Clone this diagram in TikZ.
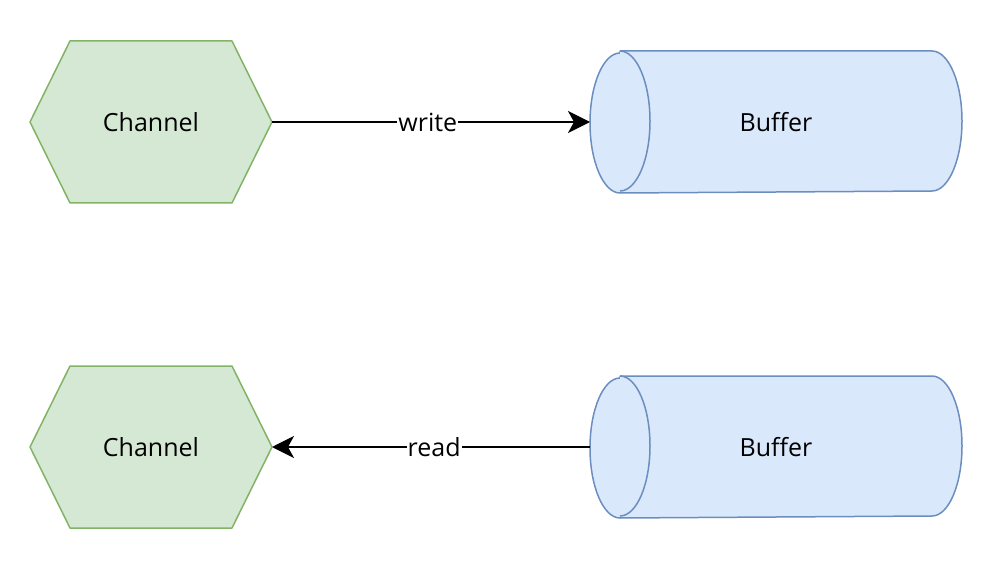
\documentclass[tikz,border=0pt]{standalone}
\usepackage{fontspec}
\setmainfont{Open Sans}
\usepackage{tikz}
\usetikzlibrary{arrows.meta,backgrounds}
\usepackage{xcolor}
\definecolor{chanfill}{HTML}{D5E8D4}
\definecolor{chanedge}{HTML}{82B366}
\definecolor{buffill}{HTML}{DAE8FC}
\definecolor{bufedge}{HTML}{6C8EBF}

\begin{document}
\begin{tikzpicture}[x=1pt,y=-1pt,line width=2pt,>={Stealth[length=22pt,width=22pt,inset=6pt]},
  font=\fontsize{25pt}{30pt}\selectfont,
  chan/.style={minimum width=240pt,minimum height=160pt,inner sep=0pt},
  buf/.style={minimum width=370pt,minimum height=140pt,inner sep=0pt},
  chanline/.style={draw=chanedge,fill=chanfill,line width=1.5pt,line join=round},
  bufline/.style={draw=bufedge,fill=buffill,line width=1.5pt,line join=round},
  lbl/.style={fill=white,inner sep=1pt}]
  \useasboundingbox (0,0) rectangle (988,564);

  \node[chan] 			(ch1) at (151,122)	{Channel};
  \node[buf]  			(buf1) at (776,122)	{Buffer};
  \node[chan] 			(ch2) at (151,447)	{Channel};
  \node[buf]  			(buf2) at (776,447)	{Buffer};

  % outlines behind the texts
  \begin{scope}[on background layer]
    \foreach \n in {ch1,ch2}
      \draw[chanline] (\n.west) -- ([xshift=40pt]\n.north west) -- ([xshift=-40pt]\n.north east)
        -- (\n.east) -- ([xshift=-40pt]\n.south east) -- ([xshift=40pt]\n.south west) -- cycle;
    \foreach \n in {buf1,buf2}{
      \draw[bufline] ([xshift=30pt]\n.north west) -- ([xshift=-30pt]\n.north east)
        arc[start angle=90,end angle=-90,x radius=30pt,y radius=70pt]
        -- ([xshift=30pt]\n.south west)
        arc[start angle=270,end angle=90,x radius=30pt,y radius=70pt] -- cycle;
      \draw[bufline] ([xshift=30pt]\n.north west)
        arc[start angle=90,end angle=-90,x radius=30pt,y radius=70pt];
    }
  \end{scope}

  \draw[->] (ch1.east) -- node[lbl,pos=0.49] {write} (buf1.west);
  \draw[->] (buf2.west) -- node[lbl,pos=0.49] {read} (ch2.east);
\end{tikzpicture}
\end{document}
